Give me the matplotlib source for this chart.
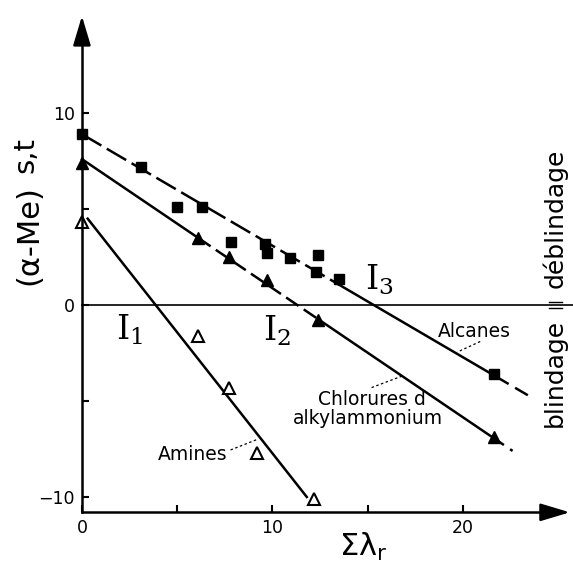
import matplotlib.pyplot as plt

# Alcanes (filled squares)
alc_x = [0, 3.1, 5.0, 6.3, 7.8, 9.6, 9.7, 10.9, 12.4, 12.3, 13.5, 21.6]
alc_y = [8.9, 7.2, 5.1, 5.1, 3.3, 3.2, 2.7, 2.45, 2.6, 1.7, 1.35, -3.6]

# Chlorures d'alkylammonium (filled triangles)
chl_x = [0, 6.1, 7.7, 9.7, 12.4, 21.6]
chl_y = [7.4, 3.5, 2.5, 1.3, -0.8, -6.9]

# Amines (open triangles)
ami_x = [0, 6.1, 7.7, 9.2, 12.2]
ami_y = [4.3, -1.6, -4.3, -7.7, -10.1]

# fitted straight lines: (x start, y start, x end, y end)
alc_fit = [0.0, 8.9, 23.4, -4.7]
chl_fit = [0.0, 7.6, 22.6, -7.6]
ami_fit = [0.3, 4.5, 11.8, -10.0]

def fit_y(fit, x):
    x0, y0, x1, y1 = fit
    return y0 + (y1 - y0) * (x - x0) / (x1 - x0)

fig = plt.figure(figsize=(5.73, 5.68), dpi=100)
ax = fig.add_axes([0, 0, 1, 1])
ax.set_xlim(-4.30, 25.77)
ax.set_ylim(-13.70, 15.89)

lw = 1.8
# Alcanes: dashed at first, solid in the middle, dashed at the end
for xa, xb, ls in [(0.0, 13.5, (0, (9, 2.5))), (13.5, 21.6, "-"), (21.6, 23.4, (0, (7, 3)))]:
    ax.plot([xa, xb], [fit_y(alc_fit, xa), fit_y(alc_fit, xb)], color="k", lw=lw, ls=ls)
# Chlorures
for xa, xb, ls in [(0.0, 6.1, "-"), (6.1, 12.4, (0, (6, 2.5))), (12.4, 21.6, "-"), (21.6, 22.6, (0, (5, 3)))]:
    ax.plot([xa, xb], [fit_y(chl_fit, xa), fit_y(chl_fit, xb)], color="k", lw=lw, ls=ls)
# Amines
ax.plot([ami_fit[0], ami_fit[2]], [ami_fit[1], ami_fit[3]], color="k", lw=lw)

ax.plot(alc_x, alc_y, ls="none", marker="s", ms=7, color="k")
ax.plot(chl_x, chl_y, ls="none", marker="^", ms=8.5, color="k")
ax.plot(ami_x, ami_y, ls="none", marker="^", ms=8.5, mfc="white", mec="k", mew=1.5)

# zero line
ax.plot([0, 25.8], [0, 0], color="k", lw=1.2)

# axes
x_base = -10.8
for s in ["top", "right"]:
    ax.spines[s].set_visible(False)
ax.spines["left"].set_position(("data", 0))
ax.spines["bottom"].set_position(("data", x_base))
ax.spines["left"].set_bounds(x_base, 14.0)
ax.spines["bottom"].set_bounds(0, 24.5)
ax.spines["left"].set_linewidth(lw)
ax.spines["bottom"].set_linewidth(lw)
ax.annotate("", xy=(0, 15.2), xytext=(0, 13.5),
            arrowprops=dict(arrowstyle="-|>,head_length=1.0,head_width=0.3", color="k", lw=lw, mutation_scale=18))
ax.annotate("", xy=(25.75, x_base), xytext=(24.0, x_base),
            arrowprops=dict(arrowstyle="-|>,head_length=1.0,head_width=0.3", color="k", lw=lw, mutation_scale=18))

ax.set_xticks([0, 5, 10, 15, 20])
ax.set_xticklabels(["0", "", "10", "", "20"])
ax.set_yticks([-10, -5, 0, 5, 10])
ax.set_yticklabels(["\u221210", "", "0", "", "10"])
ax.tick_params(direction="in", length=5, width=1.5, labelsize=12.5, pad=5)

# axis titles
ax.text(-2.78, 3.65, "(\u03b1-Me)", rotation=90, fontsize=22, ha="center", va="center")
ax.text(-2.95, 7.8, "s,t", rotation=90, fontsize=21, ha="center", va="center")
ax.text(14.75, -12.6, r"$\mathregular{\Sigma\lambda_r}$", fontsize=22, ha="center", va="center")

# intercept labels
serif = "DejaVu Serif"
ax.text(2.5, -1.3, r"$\mathregular{I_1}$", fontsize=24, family=serif, ha="center", va="center")
ax.text(10.25, -1.35, r"$\mathregular{I_2}$", fontsize=24, family=serif, ha="center", va="center")
ax.text(15.6, 1.3, r"$\mathregular{I_3}$", fontsize=24, family=serif, ha="center", va="center")

# series labels with dotted leaders
fs = 13.5
ax.text(20.6, -1.4, "Alcanes", fontsize=fs, ha="center", va="center")
ax.plot([20.9, 19.7], [-1.9, -2.45], color="k", lw=0.9, ls=(0, (2, 2)))
ax.text(15.2, -4.9, "Chlorures d", fontsize=fs, ha="center", va="center")
ax.text(15.0, -5.9, "alkylammonium", fontsize=fs, ha="center", va="center")
ax.plot([15.2, 16.8], [-4.3, -3.7], color="k", lw=0.9, ls=(0, (2, 2)))
ax.text(5.83, -7.8, "Amines", fontsize=fs, ha="center", va="center")
ax.plot([7.8, 9.2], [-7.55, -7.0], color="k", lw=0.9, ls=(0, (2, 2)))

# blindage / deblindage
ax.text(24.8, 4.5, "d\u00e9blindage", rotation=90, fontsize=18, ha="center", va="center")
ax.text(24.8, -3.55, "blindage", rotation=90, fontsize=18, ha="center", va="center")
ax.plot([24.5, 25.2], [0.15, 0.15], color="k", lw=1.0)
ax.plot([24.5, 25.2], [-0.15, -0.15], color="k", lw=1.0)

fig.savefig("out.png", dpi=100)
plt.close(fig)
